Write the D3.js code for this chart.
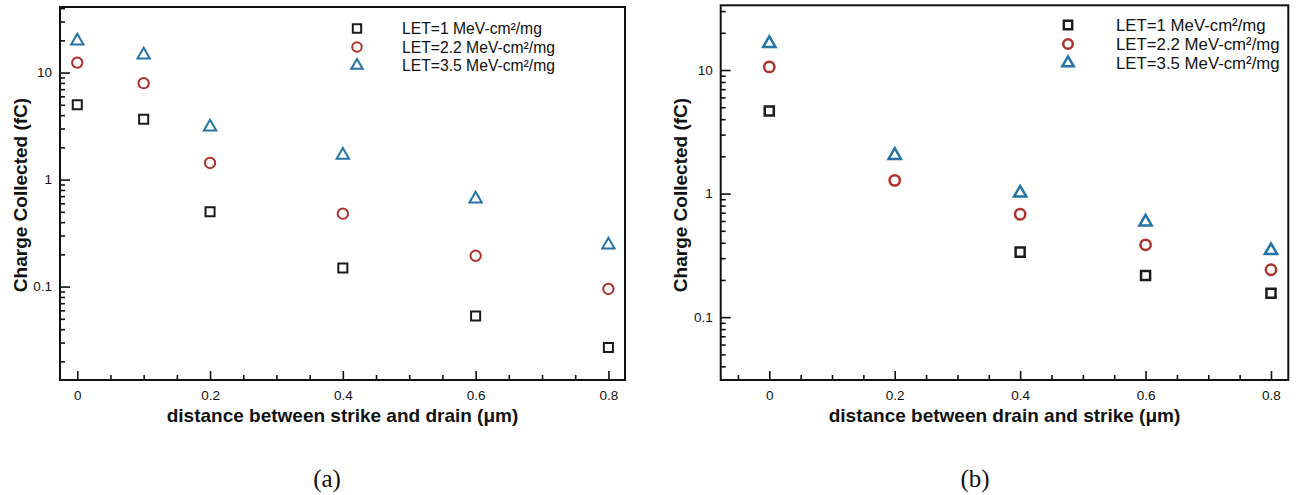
<!DOCTYPE html>
<html>
<head>
<meta charset="utf-8">
<script src="https://cdn.jsdelivr.net/npm/d3@7/dist/d3.min.js"></script>
<style>
  html, body { margin: 0; padding: 0; background: #fff; }
  svg { display: block; }
  text { font-family: "Liberation Sans", Arial, Helvetica, sans-serif; fill: #111; }
</style>
</head>
<body>
<svg id="chart" width="1299" height="495"></svg>
<script>
// panel (a): distance between strike and drain
const distA = [0, 0.1, 0.2, 0.4, 0.6, 0.8];
const let1A = [5.0, 3.66, 0.50, 0.149, 0.053, 0.027];
const let22A = [12.4, 7.96, 1.43, 0.48, 0.194, 0.095];
const let35A = [19.8, 14.6, 3.10, 1.69, 0.66, 0.245];

// panel (b): distance between drain and strike (no LET=1 point at 0.2)
const distB = [0, 0.2, 0.4, 0.6, 0.8];
const let1B = [4.66, null, 0.336, 0.217, 0.156];
const let22B = [10.6, 1.28, 0.68, 0.385, 0.242];
const let35B = [16.4, 2.04, 1.01, 0.589, 0.346];

const seriesNames = ['LET=1 MeV-cm²/mg', 'LET=2.2 MeV-cm²/mg', 'LET=3.5 MeV-cm²/mg'];
const xTickValues = [0, 0.2, 0.4, 0.6, 0.8];
const yTickValues = [0.1, 1, 10];

const STYLES = [
  { symbol: d3.symbolSquare, size: 82, color: '#1b1b1b' },
  { symbol: d3.symbolCircle, size: 84, color: '#b0302b' },
  { symbol: d3.symbolTriangle, size: 66, color: '#2474a6' }
];

const svg = d3.select('#chart');

function logMinors(domain) {
  const out = [];
  for (let e = -3; e <= 3; e++) {
    for (let m = 2; m <= 9; m++) {
      const v = m * Math.pow(10, e);
      if (v > domain[0] && v < domain[1]) out.push(v);
    }
  }
  return out;
}

function drawPanel(cfg) {
  const g = svg.append('g');
  const x = d3.scaleLinear().domain(cfg.xDomain).range([cfg.left, cfg.right]);
  const y = d3.scaleLog().domain(cfg.yDomain).range([cfg.bottom, cfg.top]);

  const xMinor = d3.range(-0.05, 0.81, 0.05)
    .map((v) => Math.round(v * 100) / 100)
    .filter((v) => v > cfg.xDomain[0] && !xTickValues.includes(v));

  // minor x ticks
  g.append('g')
    .attr('transform', `translate(0,${cfg.bottom})`)
    .call(d3.axisBottom(x).tickValues(xMinor).tickSize(-5).tickFormat(''))
    .call((s) => s.select('.domain').remove());
  // major x ticks
  g.append('g')
    .attr('transform', `translate(0,${cfg.bottom})`)
    .call(d3.axisBottom(x).tickValues(xTickValues).tickSize(-9).tickPadding(10.5)
      .tickFormat((d) => d === 0 ? '0' : d3.format('.1f')(d)))
    .call((s) => s.select('.domain').remove())
    .call((s) => s.selectAll('text').attr('font-size', 13.5).attr('font-family', null));

  // minor y ticks
  g.append('g')
    .attr('transform', `translate(${cfg.left},0)`)
    .call(d3.axisLeft(y).tickValues(logMinors(cfg.yDomain)).tickSize(-5).tickFormat(''))
    .call((s) => s.select('.domain').remove());
  // major y ticks
  g.append('g')
    .attr('transform', `translate(${cfg.left},0)`)
    .call(d3.axisLeft(y).tickValues(yTickValues).tickSize(-10).tickPadding(8)
      .tickFormat((d) => String(d)))
    .call((s) => s.select('.domain').remove())
    .call((s) => s.selectAll('text').attr('font-size', 13.5).attr('font-family', null));

  g.selectAll('.tick line').attr('stroke', '#111').attr('stroke-width', 1.6);

  // frame
  g.append('rect')
    .attr('x', cfg.left).attr('y', cfg.top)
    .attr('width', cfg.right - cfg.left).attr('height', cfg.bottom - cfg.top)
    .attr('fill', 'none').attr('stroke', '#111').attr('stroke-width', 2);

  // data points
  cfg.series.forEach((vals, i) => {
    const st = STYLES[i];
    g.append('g').selectAll('path')
      .data(cfg.xs.map((xv, j) => [xv, vals[j]]).filter((d) => d[1] != null))
      .join('path')
      .attr('transform', (d) => `translate(${x(d[0])},${y(d[1])})`)
      .attr('d', d3.symbol(st.symbol, st.size))
      .attr('fill', 'none')
      .attr('stroke', st.color)
      .attr('stroke-width', cfg.markerStroke);
  });

  // legend
  seriesNames.forEach((name, i) => {
    const st = STYLES[i];
    const ly = cfg.legendY + i * cfg.legendStep;
    g.append('path')
      .attr('transform', `translate(${cfg.legendMarkX},${ly})`)
      .attr('d', d3.symbol(st.symbol, st.size * 0.85))
      .attr('fill', 'none')
      .attr('stroke', st.color)
      .attr('stroke-width', cfg.markerStroke);
    g.append('text')
      .attr('x', cfg.legendTextX)
      .attr('y', ly + 5.5)
      .attr('font-size', cfg.legendFont)
      .text(name);
  });

  // axis titles
  g.append('text')
    .attr('x', (cfg.left + cfg.right) / 2)
    .attr('y', 422)
    .attr('text-anchor', 'middle')
    .attr('font-size', 19)
    .attr('font-weight', 'bold')
    .text(cfg.xTitle);
  g.append('text')
    .attr('transform', `translate(${cfg.yTitleX},195) rotate(-90)`)
    .attr('text-anchor', 'middle')
    .attr('font-size', 19)
    .attr('font-weight', 'bold')
    .text('Charge Collected (fC)');

  // caption
  g.append('text')
    .attr('x', cfg.captionX)
    .attr('y', 487)
    .attr('text-anchor', 'middle')
    .attr('font-size', 25)
    .style('font-family', '"Liberation Serif", "Times New Roman", serif')
    .text(cfg.caption);
}

drawPanel({
  left: 60, right: 625, top: 7, bottom: 380,
  xDomain: [-0.026, 0.825], yDomain: [0.0134, 41],
  xs: distA, series: [let1A, let22A, let35A],
  markerStroke: 2,
  legendMarkX: 357, legendTextX: 402, legendY: 28.5, legendStep: 18.5, legendFont: 15.7,
  xTitle: 'distance between strike and drain (μm)', yTitleX: 27,
  caption: '(a)', captionX: 327
});

drawPanel({
  left: 720.7, right: 1288.3, top: 5.3, bottom: 380,
  xDomain: [-0.0775, 0.8276], yDomain: [0.031, 33.4],
  xs: distB, series: [let1B, let22B, let35B],
  markerStroke: 2.5,
  legendMarkX: 1068, legendTextX: 1116, legendY: 25, legendStep: 19, legendFont: 16.8,
  xTitle: 'distance between drain and strike (μm)', yTitleX: 687,
  caption: '(b)', captionX: 975
});
</script>
</body>
</html>
